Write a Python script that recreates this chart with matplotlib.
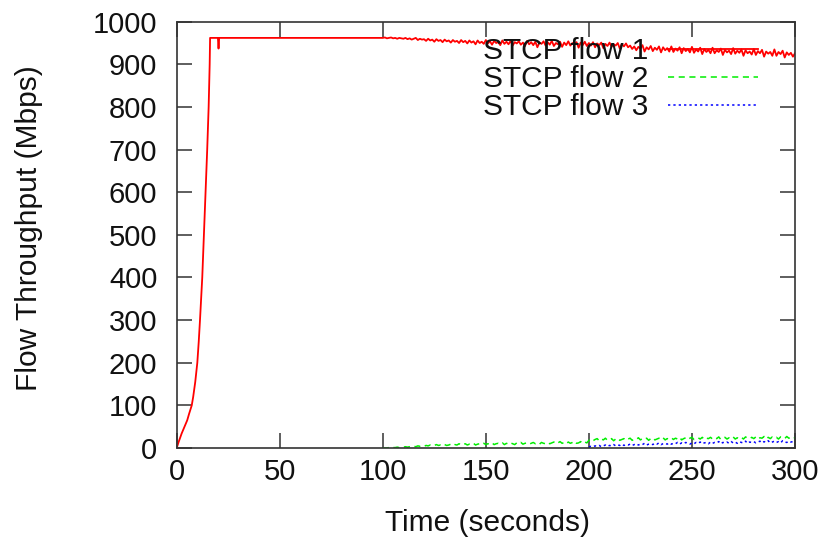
import matplotlib
matplotlib.use("Agg")
import matplotlib.pyplot as plt

plt.rcParams['font.family'] = ['Liberation Sans', 'DejaVu Sans']

# ---- data ----
flow1_ramp_t = [0, 1, 2.4, 4, 5.1, 6, 7.3, 8, 9, 10, 10.7, 11.3, 12.4, 13.2, 14, 14.8, 15.5, 16, 16.2,
                20, 20.3, 20.6, 40, 60, 80, 99]
flow1_ramp_v = [0, 15, 34, 52, 65, 80, 100, 120, 155, 200, 250, 300, 400, 500, 600, 700, 800, 900, 962,
                962, 937, 962, 962, 962, 962, 962]

flow1_t = list(range(100, 301))
flow1_v = [962, 963, 961, 962, 963, 961, 962, 960, 962, 961,
           960, 962, 959, 961, 958, 960, 962, 957, 960, 958,
           959, 955, 960, 956, 958, 953, 959, 955, 957, 952,
           958, 954, 956, 951, 957, 953, 955, 950, 957, 952,
           955, 949, 956, 951, 954, 947, 956, 950, 953, 948,
           957, 949, 954, 946, 955, 950, 952, 945, 956, 948,
           953, 947, 955, 944, 952, 949, 954, 946, 951, 943,
           955, 947, 952, 945, 953, 940, 951, 948, 954, 944,
           952, 946, 955, 943, 950, 947, 953, 941, 951, 945,
           954, 944, 950, 946, 952, 939, 951, 945, 953, 943,
           950, 944, 952, 940, 949, 945, 951, 938, 948, 943,
           951, 941, 947, 944, 950, 937, 948, 942, 949, 940,
           944, 936, 942, 933, 941, 937, 945, 930, 940, 935,
           943, 931, 939, 934, 942, 928, 940, 933, 938, 930,
           942, 929, 937, 932, 940, 926, 938, 931, 936, 928,
           941, 927, 935, 930, 939, 924, 936, 929, 934, 926,
           939, 926, 933, 929, 937, 922, 934, 928, 932, 924,
           938, 925, 932, 927, 935, 920, 933, 926, 930, 923,
           936, 922, 931, 926, 934, 918, 930, 925, 929, 920,
           935, 920, 929, 924, 932, 916, 928, 922, 927, 918,
           926]

flow2_t = list(range(100, 301))
flow2_v = [0, 0, 0, 1, 0, 1, 1, 2, 1, 2,
           2, 3, 2, 3, 3, 4, 3, 5, 4, 5,
           4, 6, 5, 7, 5, 6, 8, 6, 7, 5,
           8, 6, 7, 9, 6, 8, 7, 10, 7, 8,
           10, 7, 9, 8, 11, 7, 9, 10, 8, 11,
           8, 10, 9, 12, 8, 10, 11, 9, 12, 8,
           11, 9, 12, 10, 8, 12, 10, 13, 9, 11,
           12, 9, 11, 13, 10, 12, 9, 13, 11, 10,
           13, 10, 12, 14, 10, 12, 15, 11, 13, 10,
           14, 11, 13, 16, 11, 12, 15, 11, 14, 12,
           18, 21, 17, 20, 22, 17, 21, 19, 23, 18,
           20, 22, 17, 21, 23, 18, 20, 22, 18, 21,
           23, 18, 21, 20, 24, 19, 22, 20, 23, 18,
           22, 24, 19, 21, 23, 20, 24, 19, 22, 21,
           24, 20, 23, 21, 25, 19, 22, 24, 20, 23,
           25, 20, 22, 24, 21, 25, 20, 23, 22, 25,
           21, 24, 22, 26, 20, 23, 25, 21, 24, 22,
           26, 21, 24, 22, 25, 21, 26, 23, 22, 25,
           22, 26, 21, 24, 23, 27, 21, 25, 22, 26,
           23, 25, 21, 26, 24, 22, 27, 23, 25, 22,
           24]

flow3_t = list(range(200, 301))
flow3_v = [2, 4, 3, 5, 4, 6, 3, 5, 7, 4,
           6, 5, 8, 5, 7, 6, 9, 6, 8, 7,
           9, 6, 8, 10, 7, 9, 8, 11, 7, 9,
           10, 8, 11, 9, 12, 8, 10, 11, 9, 12,
           9, 11, 10, 13, 9, 12, 10, 13, 11, 9,
           12, 10, 13, 11, 14, 10, 12, 13, 10, 14,
           11, 13, 12, 15, 10, 13, 12, 14, 11, 15,
           12, 14, 11, 15, 13, 12, 16, 11, 14, 13,
           15, 12, 14, 16, 12, 15, 13, 17, 12, 14,
           16, 13, 15, 12, 17, 14, 13, 16, 14, 15,
           14]

labels = ["STCP flow 1", "STCP flow 2", "STCP flow 3"]
x_ticks = [0, 50, 100, 150, 200, 250, 300]
y_ticks = [0, 100, 200, 300, 400, 500, 600, 700, 800, 900, 1000]

# ---- figure ----
fig = plt.figure(figsize=(8.28, 5.38), dpi=100)
ax = fig.add_axes([176.7 / 828, 1 - 448 / 538, (795 - 176.7) / 828, (448 - 21.7) / 538])

f1_t = flow1_ramp_t + flow1_t
f1_v = flow1_ramp_v + flow1_v
ax.plot(f1_t, f1_v, color='#ff0000', lw=1.3, label=labels[0])
ax.plot(flow2_t, flow2_v, color='#00ee00', lw=1.1, ls=(0, (4, 3)), label=labels[1])
ax.plot(flow3_t, flow3_v, color='#0000ff', lw=1.1, ls=(0, (1.5, 2)), label=labels[2])

ax.set_xlim(0, 300)
ax.set_ylim(0, 1000)
ax.set_xticks(x_ticks)
ax.set_yticks(y_ticks)
ax.tick_params(direction='in', length=11, width=1.1, color='#333333',
               top=True, right=True, labelsize=21, labelcolor='#111111')
ax.tick_params(axis='y', pad=14)
ax.tick_params(axis='x', pad=7)
for s in ax.spines.values():
    s.set_linewidth(1.2)
    s.set_color('#333333')

ax.set_xlabel("Time (seconds)", fontsize=21.5, color='#111111')
ax.set_ylabel("Flow Throughput (Mbps)", fontsize=21.5, color='#111111')
ax.xaxis.set_label_coords(0.502, -0.143)
ax.yaxis.set_label_coords(-0.216, 0.516)

leg = ax.legend(loc='upper right', bbox_to_anchor=(758 / 828, 1 - 37 / 538),
                bbox_transform=fig.transFigure, frameon=False, markerfirst=False,
                fontsize=21.5, handlelength=3.0, handletextpad=0.67, labelspacing=0.0,
                borderpad=0, borderaxespad=0)
for t in leg.get_texts():
    t.set_color('#111111')

fig.savefig("out.png", dpi=100)
